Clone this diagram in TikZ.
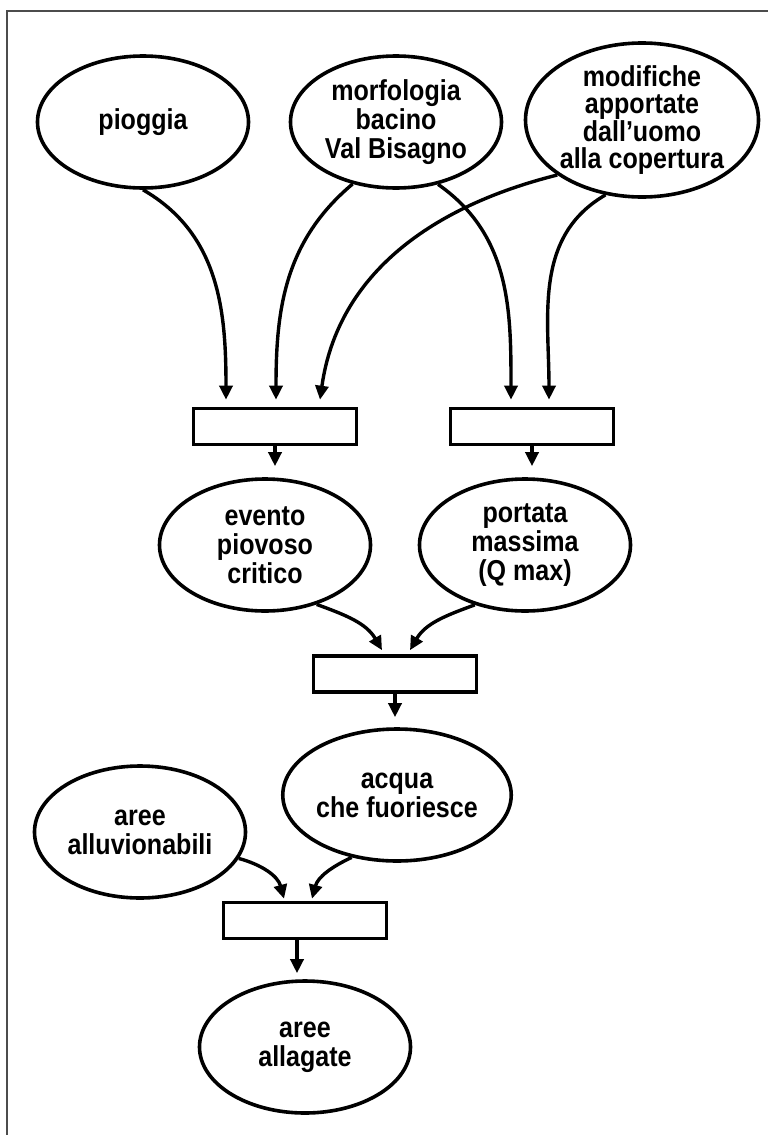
\documentclass[tikz,border=0pt]{standalone}
\usepackage{fontspec}
\setmainfont{Liberation Sans}[FakeStretch=0.87]
\usetikzlibrary{shapes.geometric,arrows.meta}

\begin{document}
\begin{tikzpicture}[x=0.5pt,y=0.5pt,
		nodo/.style={draw, ellipse, line width=1.8pt, inner sep=0pt, align=center,
			font=\bfseries\fontsize{14.4}{14.5}\selectfont,
			minimum width=105.5pt, minimum height=66pt},
		scatola/.style={draw, rectangle, line width=1.8pt, inner sep=0pt,
			minimum width=81.5pt, minimum height=18pt},
		freccia/.style={line width=1.7pt, -{Triangle[length=7pt,width=6.5pt]}}]
		\useasboundingbox (0,0) rectangle (768,-1135);
		\draw[gray!60!black, line width=0.7pt] (7,-1135) -- (7,-11) -- (768,-11);

		\node[nodo] (pioggia) at (143,-122) {pioggia};
		\node[nodo] (morfologia) at (396,-122) {morfologia\\bacino\\Val Bisagno};
		\node[nodo, minimum width=116.5pt, minimum height=72pt,
			font=\bfseries\fontsize{14.4}{13.3}\selectfont] (modifiche) at (642,-120)
			{modifiche\\apportate\\dall'uomo\\alla copertura};

		\node[scatola] (t1) at (275,-426.5) {};
		\node[scatola] (t2) at (532,-426.5) {};

		\node[nodo] (evento) at (265,-545) {evento\\piovoso\\critico};
		\node[nodo] (portata) at (525,-545) {portata\\massima\\(Q max)};

		\node[scatola] (t3) at (395,-674) {};

		\node[nodo] (acqua) at (397,-795) {acqua\\che fuoriesce};
		\node[nodo] (alluvionabili) at (140,-832) {aree\\alluvionabili};

		\node[scatola] (t4) at (305,-920.5) {};

		\node[nodo] (allagate) at (305,-1047) {aree\\allagate};

		\draw[freccia] (pioggia.south) to[out=-30,in=90] ([shift={(-49,7)}]t1.north);
		\draw[freccia] (morfologia.-125) to[out=-140,in=90] ([shift={(1,7)}]t1.north);
		\draw[freccia] (modifiche.-147) to[out=-166,in=82] ([shift={(45,7)}]t1.north);
		\draw[freccia] (morfologia.-56) to[out=-35,in=90] ([shift={(-21,7)}]t2.north);
		\draw[freccia] (modifiche.-116) to[out=-150,in=90] ([shift={(17,7)}]t2.north);

		\draw[freccia, shorten >=5.5pt] (t1.south) -- (t1.south |- evento.north);
		\draw[freccia, shorten >=5.5pt] (t2.south) -- (t2.south |- portata.north);

		\draw[freccia] (evento.-49) to[out=-20,in=120] ([shift={(-13,4)}]t3.north);
		\draw[freccia] (portata.-130) to[out=-160,in=60] ([shift={(15,4)}]t3.north);
		\draw[freccia, shorten >=5pt] (t3.south) -- (t3.south |- acqua.north);

		\draw[freccia] (alluvionabili.-15) to[out=-15,in=105] ([shift={(-21,2)}]t4.north);
		\draw[freccia] (acqua.-126) to[out=-155,in=75] ([shift={(7,2)}]t4.north);
		\draw[freccia, shorten >=3pt] ([xshift=-4pt]t4.south) -- ([xshift=-4pt]t4.south |- allagate.north);
\end{tikzpicture}
\end{document}
